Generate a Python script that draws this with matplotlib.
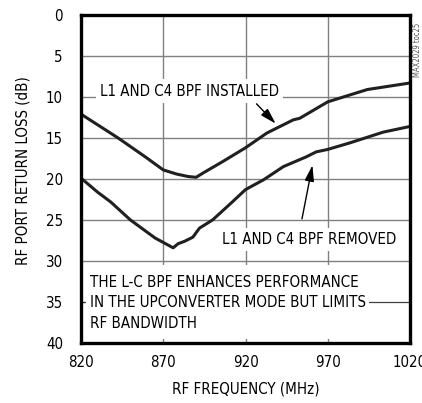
import matplotlib.pyplot as plt
from matplotlib.patches import Rectangle

plt.rcParams['font.family'] = ['DejaVu Sans']
plt.rcParams['font.stretch'] = 'condensed'

# L1 y C4 BPF instalado
frecInstalado = [820, 842.5, 859, 870, 878, 885, 890, 894, 906, 920, 933, 949, 953, 970, 994, 1020]
perdidaInstalado = [12.1, 15.0, 17.3, 18.9, 19.4, 19.7, 19.8, 19.3, 17.9, 16.2, 14.4, 12.8, 12.6, 10.6, 9.1, 8.3]

# L1 y C4 BPF removido
frecRemovido = [820, 830, 838, 850, 865, 876, 879, 883, 888, 892, 900, 912, 920, 931, 943, 957, 963, 970, 983.5, 1003.6, 1020]
perdidaRemovido = [19.9, 21.6, 22.8, 25.0, 27.2, 28.4, 27.9, 27.6, 27.1, 26.0, 25.0, 22.8, 21.3, 20.1, 18.5, 17.3, 16.7, 16.4, 15.6, 14.3, 13.6]

xTicks = [820, 870, 920, 970, 1020]
yTicks = [0, 5, 10, 15, 20, 25, 30, 35, 40]

gris = '#808080'
tam = 10.8
flecha = '-|>,head_length=1.2,head_width=0.35'

fig = plt.figure(figsize=(4.22, 4.03), dpi=100)
ax = fig.add_axes([0.192, 0.149, 0.7796, 0.814])

ax.plot(frecInstalado, perdidaInstalado, color='#231f20', lw=2.2, zorder=3)
ax.plot(frecRemovido, perdidaRemovido, color='#231f20', lw=2.2, zorder=3)

ax.set_xlim(820, 1020)
ax.set_ylim(40, 0)
ax.set_xticks(xTicks)
ax.set_yticks(yTicks)
ax.grid(True, color=gris, lw=1.0)
ax.tick_params(direction='in', length=0, labelsize=tam, pad=9)
ax.tick_params(axis='y', pad=13)
for s in ax.spines.values():
    s.set_linewidth(2.4)
    s.set_zorder(5)

# caja blanca de la nota
ax.add_patch(Rectangle((0.012, 0.0125), 0.988, 0.2245, transform=ax.transAxes,
                       facecolor='white', edgecolor='none', zorder=1.6))
ax.axhline(35, color='#404040', lw=0.9, zorder=1.7)
ax.text(825.3, 35.1, 'THE L-C BPF ENHANCES PERFORMANCE\nIN THE UPCONVERTER MODE BUT LIMITS\nRF BANDWIDTH',
        fontsize=tam, ha='left', va='center', linespacing=1.45, zorder=2,
        bbox=dict(facecolor='white', edgecolor='none', pad=2.5))

ax.text(831.5, 9.3, 'L1 AND C4 BPF INSTALLED', fontsize=tam, ha='left', va='center', zorder=4,
        bbox=dict(facecolor='white', edgecolor='none', pad=3))
ax.annotate('', xy=(939.5, 13.5), xytext=(925.5, 10.6),
            arrowprops=dict(arrowstyle=flecha, color='black', lw=1.0, mutation_scale=8), zorder=4)

ax.text(906, 27.4, 'L1 AND C4 BPF REMOVED', fontsize=tam, ha='left', va='center', zorder=4,
        bbox=dict(facecolor='white', edgecolor='none', pad=3))
ax.annotate('', xy=(961, 18.0), xytext=(954, 25.2),
            arrowprops=dict(arrowstyle=flecha, color='black', lw=1.0, mutation_scale=8), zorder=4)

ax.set_xlabel('RF FREQUENCY (MHz)', fontsize=tam, labelpad=8)
ax.set_ylabel('RF PORT RETURN LOSS (dB)', fontsize=tam)
ax.yaxis.set_label_coords(-0.155, 0.527)

fig.text(0.99, 0.876, 'MAX2029 toc25', rotation=90, fontsize=5.5, color='#555555',
         ha='center', va='center')

fig.savefig('out.png', dpi=100)
